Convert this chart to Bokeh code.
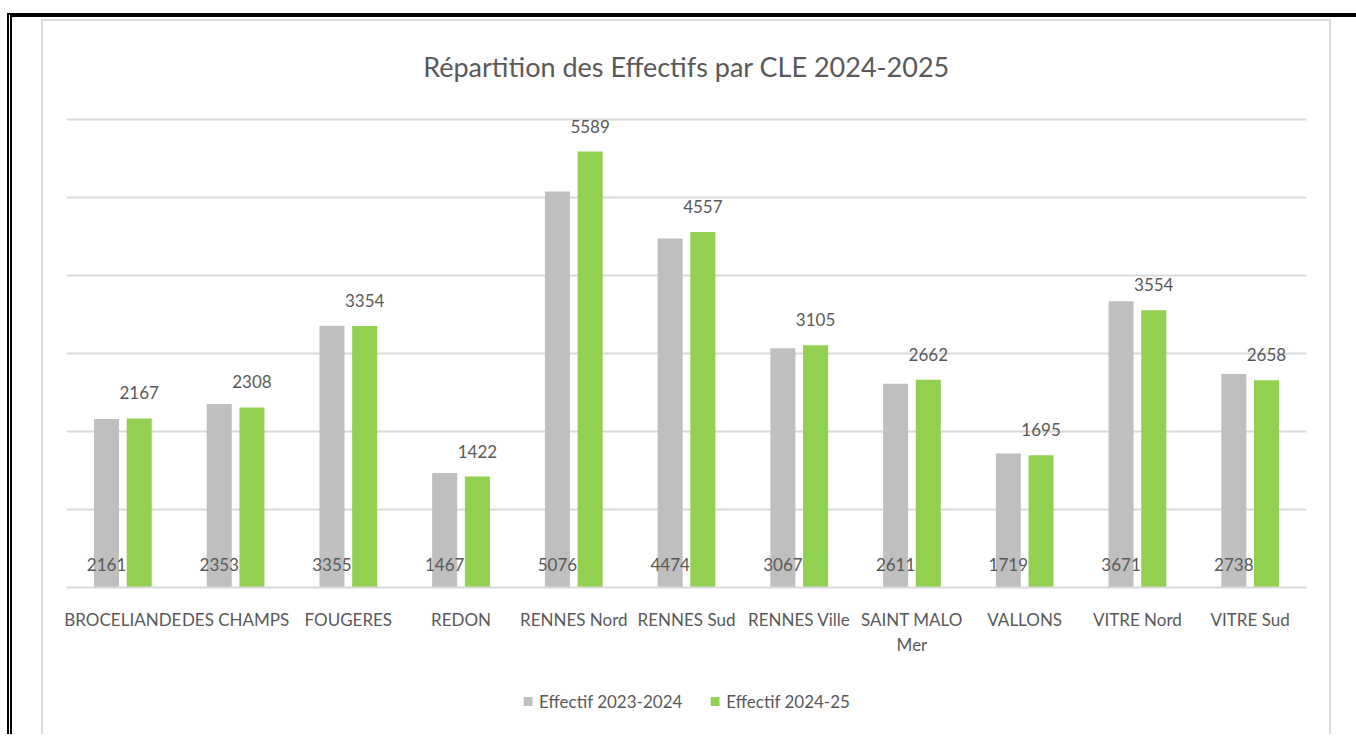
from bokeh.plotting import figure
from bokeh.layouts import column
from bokeh.models import (ColumnDataSource, FactorRange, Range1d, LabelSet, FixedTicker,
                          Legend, LegendItem, InlineStyleSheet)
from bokeh.transform import dodge
from bokeh.core.properties import value
from bokeh.embed import file_html
from bokeh.resources import INLINE

categories = ["BROCELIANDE", "DES CHAMPS", "FOUGERES", "REDON", "RENNES Nord", "RENNES Sud",
              "RENNES Ville", "SAINT MALO\nMer", "VALLONS", "VITRE Nord", "VITRE Sud"]
effectif_2023_2024 = [2161, 2353, 3355, 1467, 5076, 4474, 3067, 2611, 1719, 3671, 2738]
effectif_2024_25 = [2167, 2308, 3354, 1422, 5589, 4557, 3105, 2662, 1695, 3554, 2658]
grid_values = [1000, 2000, 3000, 4000, 5000, 6000]
title_text = "Répartition des Effectifs par CLE 2024-2025"
series_names = ["Effectif 2023-2024", "Effectif 2024-25"]

GREY = "#bfbfbf"
GREEN = "#92d050"
TXT = "#595959"
FONT = "Lato"

src = ColumnDataSource(dict(
    cat=categories,
    a=effectif_2023_2024,
    b=effectif_2024_25,
    a_lbl=[str(v) for v in effectif_2023_2024],
    b_lbl=[str(v) for v in effectif_2024_25],
    zero=[0] * len(categories),
))

# ---- main chart ----
p = figure(width=1356, height=672, output_backend="svg", toolbar_location=None,
           x_range=FactorRange(*categories, range_padding=0), y_range=Range1d(0, 6025.6),
           min_border_left=66, min_border_right=50, min_border_top=117, min_border_bottom=85,
           title=title_text)

p.vbar(x=dodge("cat", -0.145, range=p.x_range), top="a", width=0.222, source=src,
       fill_color=GREY, line_color=None)
p.vbar(x=dodge("cat", 0.145, range=p.x_range), top="b", width=0.222, source=src,
       fill_color=GREEN, line_color=None)

p.add_layout(LabelSet(x=dodge("cat", -0.145, range=p.x_range), y="zero", text="a_lbl", source=src,
                      y_offset=17, text_align="center", text_baseline="alphabetic",
                      text_font=value(FONT), text_font_size="17px", text_color=TXT))
p.add_layout(LabelSet(x=dodge("cat", 0.145, range=p.x_range), y="b", text="b_lbl", source=src,
                      y_offset=19, text_align="center", text_baseline="alphabetic",
                      text_font=value(FONT), text_font_size="17px", text_color=TXT))

p.title.align = "center"
p.title.text_font = FONT
p.title.text_font_size = "27px"
p.title.text_font_style = "normal"
p.title.text_color = TXT
p.title.standoff = 70

p.yaxis.visible = False
p.xgrid.visible = False
p.ygrid.ticker = FixedTicker(ticks=grid_values)
p.ygrid.grid_line_color = "#d9d9d9"
p.ygrid.grid_line_width = 2

p.xaxis.axis_line_color = "#d9d9d9"
p.xaxis.axis_line_width = 2
p.xaxis.major_tick_line_color = None
p.xaxis.minor_tick_line_color = None
p.xaxis.major_label_standoff = 15
p.xaxis.major_label_text_font = FONT
p.xaxis.major_label_text_font_size = "17px"
p.xaxis.major_label_text_color = TXT

p.outline_line_color = None
p.background_fill_color = "white"
p.border_fill_color = "white"

# ---- legend strip ----
q = figure(width=1356, height=62, output_backend="svg", toolbar_location=None,
           x_range=Range1d(0, 1), y_range=Range1d(0, 1), x_axis_type=None, y_axis_type=None,
           min_border_left=66, min_border_right=50, min_border_top=0, min_border_bottom=4)
q.grid.visible = False
q.outline_line_color = None
q.background_fill_color = "white"
q.border_fill_color = "white"
# zero-height keys: nothing is drawn in the strip, only the legend swatches
key_src = ColumnDataSource(dict(x=[0.5], top=[0], bottom=[0]))
k1 = q.vbar(x="x", top="top", bottom="bottom", width=0.1, source=key_src,
            fill_color=GREY, line_color=None)
k2 = q.vbar(x="x", top="top", bottom="bottom", width=0.1, source=key_src,
            fill_color=GREEN, line_color=None)
lg = Legend(items=[LegendItem(label=series_names[0], renderers=[k1]),
                   LegendItem(label=series_names[1], renderers=[k2])],
            location="center", orientation="horizontal", padding=0, margin=0,
            spacing=27, label_standoff=6, glyph_width=11, glyph_height=11,
            label_text_font=FONT, label_text_font_size="17px", label_text_color=TXT,
            border_line_color=None, background_fill_alpha=0)
q.add_layout(lg)

layout = column(p, q, spacing=0)

# decorative page frames drawn with CSS pseudo-elements of the layout host element
css = """
:host::before {
  content: ""; position: absolute; left: 7px; top: 13px; width: 1349px; height: 721px;
  border-top: 4px solid #000; border-left: 5px double #000; pointer-events: none; z-index: 5;
  box-sizing: border-box;
}
:host::after {
  content: ""; position: absolute; left: 41px; top: 19px; width: 1290px; height: 715px;
  border-top: 2px solid #d9d9d9; border-left: 2px solid #d9d9d9; border-right: 2px solid #d9d9d9;
  pointer-events: none; z-index: 5; box-sizing: border-box;
}
"""
layout.stylesheets = [InlineStyleSheet(css=css)]

open("out.html", "w").write(file_html(layout, INLINE))
